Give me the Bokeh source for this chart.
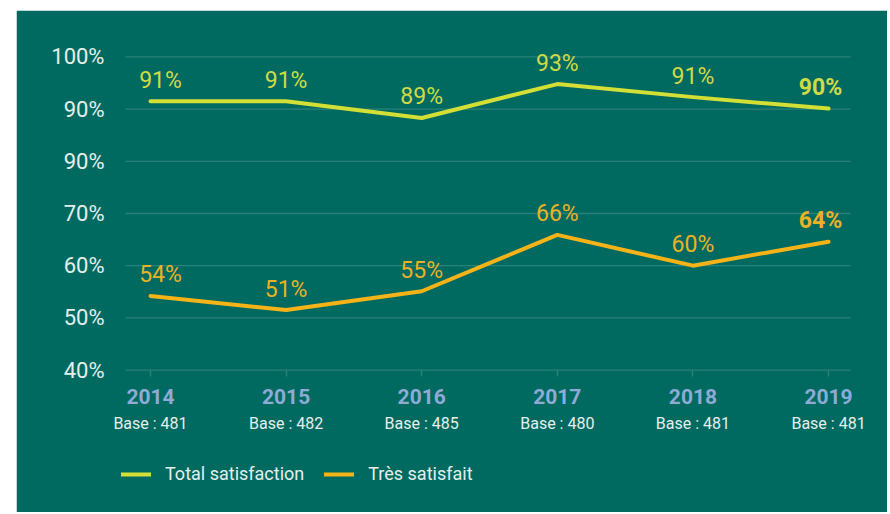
from bokeh.plotting import figure
from bokeh.models import Range1d, FixedTicker, LinearAxis, ColumnDataSource, Legend, LegendItem
from bokeh.core.properties import value
from bokeh.embed import file_html
from bokeh.resources import INLINE

# ---- data ----
years = ["2014", "2015", "2016", "2017", "2018", "2019"]
bases = ["Base : 481", "Base : 482", "Base : 485", "Base : 480", "Base : 481", "Base : 481"]
total_values = [91.5, 91.5, 88.3, 94.8, 92.3, 90.1]
total_labels = ["91%", "91%", "89%", "93%", "91%", "90%"]
tres_values = [54.2, 51.5, 55.1, 65.9, 60.0, 64.6]
tres_labels = ["54%", "51%", "55%", "66%", "60%", "64%"]
y_ticks = [40, 50, 60, 70, 80, 90, 100]
y_tick_labels = ["40%", "50%", "60%", "70%", "90%", "90%", "100%"]

# ---- style / layout ----
BG = "#006a60"
GRID = "#2b8178"
WHITE = "#e4eeeb"
YEAR_COL = "#8eaad5"
TOTAL_COL = "#d4df36"
TOTAL_TXT = "#cfda45"
TRES_COL = "#f6b317"
TRES_TXT = "#ebb125"
FONT = "Roboto"
GRID_PAD_L, GRID_PAD_R = 0.184, 0.162   # how far grid lines reach beyond first/last category

xs = list(range(len(years)))
axis_at = y_ticks[0]
grid_lo = xs[0] - GRID_PAD_L
grid_hi = xs[-1] + GRID_PAD_R

p = figure(width=871, height=502, output_backend="svg", toolbar_location=None,
           x_range=Range1d(-0.2876, 5.302), y_range=Range1d(12.7, 102),
           min_border_left=95, min_border_right=18, min_border_top=36, min_border_bottom=0,
           background_fill_color=BG, border_fill_color=BG,
           outline_line_color=BG, outline_line_width=3)
p.margin = (10, 0, 0, 16)

# y axis
p.yaxis.ticker = FixedTicker(ticks=y_ticks)
p.yaxis.major_label_overrides = {t: l for t, l in zip(y_ticks, y_tick_labels)}
p.yaxis.axis_line_color = None
p.yaxis.major_tick_line_color = None
p.yaxis.minor_tick_line_color = None
p.yaxis.major_label_standoff = 1
p.yaxis.major_label_text_font = FONT
p.yaxis.major_label_text_font_size = "22px"
p.yaxis.major_label_text_color = WHITE

# grid lines limited to the plotting band
p.xgrid.grid_line_color = None
p.ygrid.grid_line_color = None
p.segment(x0=[grid_lo] * len(y_ticks), y0=y_ticks, x1=[grid_hi] * len(y_ticks), y1=y_ticks,
          line_color=GRID, line_width=1.3)

# x axis (years), placed on the 40% line
xa = p.xaxis[0]
xa.fixed_location = axis_at
xa.ticker = FixedTicker(ticks=xs)
xa.major_label_overrides = {i: y for i, y in zip(xs, years)}
xa.axis_line_color = None
xa.major_tick_line_color = GRID
xa.major_tick_line_width = 1.5
xa.major_tick_out = 6
xa.major_tick_in = 0
xa.minor_tick_line_color = None
xa.major_label_standoff = 13
xa.major_label_text_font = FONT
xa.major_label_text_font_style = "bold"
xa.major_label_text_font_size = "21px"
xa.major_label_text_color = YEAR_COL

# second axis (bases)
xb = LinearAxis(ticker=FixedTicker(ticks=xs), fixed_location=axis_at,
                major_label_overrides={i: b for i, b in zip(xs, bases)},
                axis_line_color=None, major_tick_line_color=None, minor_tick_line_color=None,
                major_tick_out=0, major_tick_in=0, major_label_standoff=44,
                major_label_text_font=FONT, major_label_text_font_size="16px",
                major_label_text_color=WHITE)
p.add_layout(xb, "below")

# lines
r1 = p.line(xs, total_values, line_color=TOTAL_COL, line_width=4, line_join="round", line_cap="round")
r2 = p.line(xs, tres_values, line_color=TRES_COL, line_width=4, line_join="round", line_cap="round")

# value labels (edge labels nudged inward, as in the reference)
last = len(years) - 1
styles = ["bold" if i == last else "normal" for i in xs]
nudges = [10 if i == 0 else (-8 if i == last else 0) for i in xs]
src1 = ColumnDataSource(dict(x=xs, y=total_values, t=total_labels, s=styles, dx=nudges))
src2 = ColumnDataSource(dict(x=xs, y=tres_values, t=tres_labels, s=styles, dx=nudges))
for src, col in ((src1, TOTAL_TXT), (src2, TRES_TXT)):
    p.text(x="x", y="y", text="t", source=src, text_align="center", text_baseline="alphabetic",
           x_offset="dx", y_offset=-21, text_font=value(FONT), text_font_size="23px",
           text_color=col, text_font_style="s")

legend = Legend(items=[LegendItem(label="Total satisfaction", renderers=[r1]),
                       LegendItem(label="Très satisfait", renderers=[r2])],
                orientation="horizontal", location=(10, 28), margin=0, padding=0,
                spacing=20, glyph_width=30, glyph_height=20, label_height=20, label_standoff=14,
                label_text_font=FONT, label_text_font_size="18px", label_text_color=WHITE,
                background_fill_alpha=0, border_line_color=None)
p.add_layout(legend, "center")

open("out.html", "w").write(file_html(p, INLINE))
